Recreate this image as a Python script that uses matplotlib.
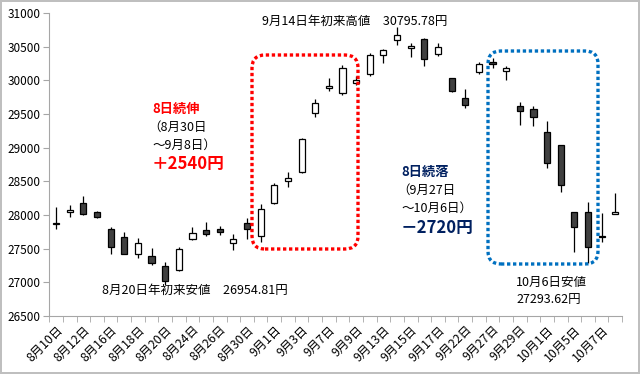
import matplotlib.pyplot as plt
import matplotlib.transforms as mtransforms
from matplotlib.patches import FancyBboxPatch
import numpy as np

plt.rcParams['font.family'] = ['Noto Sans CJK JP', 'DejaVu Sans']

dates = ["8月10日", "8月11日", "8月12日", "8月13日", "8月16日", "8月17日", "8月18日",
         "8月19日", "8月20日", "8月23日", "8月24日", "8月25日", "8月26日", "8月27日",
         "8月30日", "8月31日", "9月1日", "9月2日", "9月3日", "9月6日", "9月7日",
         "9月8日", "9月9日", "9月10日", "9月13日", "9月14日", "9月15日", "9月16日",
         "9月17日", "9月21日", "9月22日", "9月24日", "9月27日", "9月28日", "9月29日",
         "9月30日", "10月1日", "10月4日", "10月5日", "10月6日", "10月7日", "10月8日"]
opens = [27870, 28050, 28180, 28040, 27800, 27670, 27420, 27390, 27240, 27180, 27650,
         27775, 27790, 27580, 27880, 27690, 28180, 28500, 28640, 29510, 29880, 29810,
         29960, 30090, 30380, 30600, 30480, 30610, 30390, 30030, 29740, 30120, 30280,
         30140, 29620, 29570, 29230, 29040, 28040, 28040, 27680, 28010]
highs = [28120, 28150, 28280, 28060, 27820, 27745, 27655, 27510, 27300, 27525, 27820,
         27900, 27830, 27720, 27950, 28160, 28470, 28640, 29140, 29730, 30040, 30230,
         30060, 30400, 30460, 30796, 30550, 30630, 30550, 30040, 29870, 30270, 30330,
         30210, 29680, 29620, 29400, 29040, 28040, 28190, 28030, 28330]
lows = [27800, 27970, 28000, 27950, 27420, 27420, 27360, 27255, 26955, 27170, 27630,
        27690, 27700, 27480, 27640, 27600, 28160, 28410, 28620, 29450, 29850, 29790,
        29930, 30060, 30260, 30525, 30350, 30210, 30360, 29830, 29590, 30100, 30190,
        30000, 29335, 29320, 28700, 28340, 27450, 27294, 27600, 28010]
closes = [27888, 28070, 28015, 27977, 27523, 27424, 27586, 27281, 27013, 27494, 27732,
          27725, 27742, 27641, 27789, 28090, 28451, 28544, 29128, 29660, 29916, 30181,
          30008, 30382, 30447, 30670, 30512, 30323, 30500, 29840, 29639, 30249, 30240,
          30184, 29544, 29453, 28771, 28445, 27822, 27529, 27678, 28049]
yticks = np.arange(26500, 31001, 500)

fig = plt.figure(figsize=(6.4, 3.74), dpi=100)
fig.patch.set_edgecolor('#BFBFBF')
fig.patch.set_linewidth(1.5)
ax = fig.add_axes([0.077, 0.155, 0.895, 0.81])

x = np.arange(len(dates))
o = np.array(opens)
c = np.array(closes)
up = c >= o
body_lo = np.minimum(o, c)
body_h = np.maximum(np.abs(c - o), 8)

ax.vlines(x, lows, highs, color='black', lw=0.9, zorder=2)
ax.bar(x[up], body_h[up], bottom=body_lo[up], width=0.45, color='white',
       edgecolor='black', lw=0.9, zorder=3)
ax.bar(x[~up], body_h[~up], bottom=body_lo[~up], width=0.45, color='#404040',
       edgecolor='black', lw=0.9, zorder=3)

ax.set_xlim(-0.5, len(dates) - 0.5)
ax.set_ylim(26500, 31000)
ax.set_yticks(yticks)
ax.set_yticklabels([str(v) for v in yticks], fontsize=8.5)
ax.set_xticks(x[::2])
ax.set_xticklabels(dates[::2], fontsize=8.8, rotation=45, ha='right',
                   rotation_mode='anchor')
ax.set_xticks(np.arange(-0.5, len(dates), 1), minor=True)
ax.tick_params(axis='x', which='major', length=0, pad=5)
ax.tick_params(axis='x', which='minor', length=4, color='#A6A6A6')
ax.tick_params(axis='y', length=4, color='#A6A6A6', pad=2)
for s in ['top', 'right']:
    ax.spines[s].set_visible(False)
for s in ['left', 'bottom']:
    ax.spines[s].set_color('#A6A6A6')

# dotted rounded boxes, in pixel coords
H = 374
def dotted_box(x0, y0, x1, y1, col):
    p = FancyBboxPatch((x0, H - y1), x1 - x0, y1 - y0,
                       boxstyle="round,pad=0,rounding_size=13",
                       transform=mtransforms.IdentityTransform(),
                       fill=False, edgecolor=col, lw=2.4, linestyle=(0, (1, 0.8)),
                       capstyle='butt', zorder=5)
    fig.add_artist(p)

dotted_box(252, 55, 358, 249, '#FF0000')
dotted_box(488, 51, 598, 264, '#0070C0')

def txt(px, py, s, **kw):
    fig.text(px / 640, 1 - py / H, s, va='center', ha='left', **kw)

txt(262, 21, "9月14日年初来高値　30795.78円", fontsize=9)
txt(152, 109, "8日続伸", fontsize=9.5, color='#FF0000', fontweight='bold')
txt(148, 127, "（8月30日", fontsize=9)
txt(152, 145, "～9月8日）", fontsize=9)
txt(152, 164, "＋2540円", fontsize=12, color='#FF0000', fontweight='bold')
txt(401, 172, "8日続落", fontsize=9.5, color='#002060', fontweight='bold')
txt(397, 190, "（9月27日", fontsize=9)
txt(401, 208, "～10月6日）", fontsize=9)
txt(401, 228, "－2720円", fontsize=12, color='#002060', fontweight='bold')
txt(102, 290, "8月20日年初来安値　26954.81円", fontsize=9)
txt(516, 282, "10月6日安値", fontsize=9)
txt(516, 299, "27293.62円", fontsize=9)

fig.savefig('out.png', dpi=100)
